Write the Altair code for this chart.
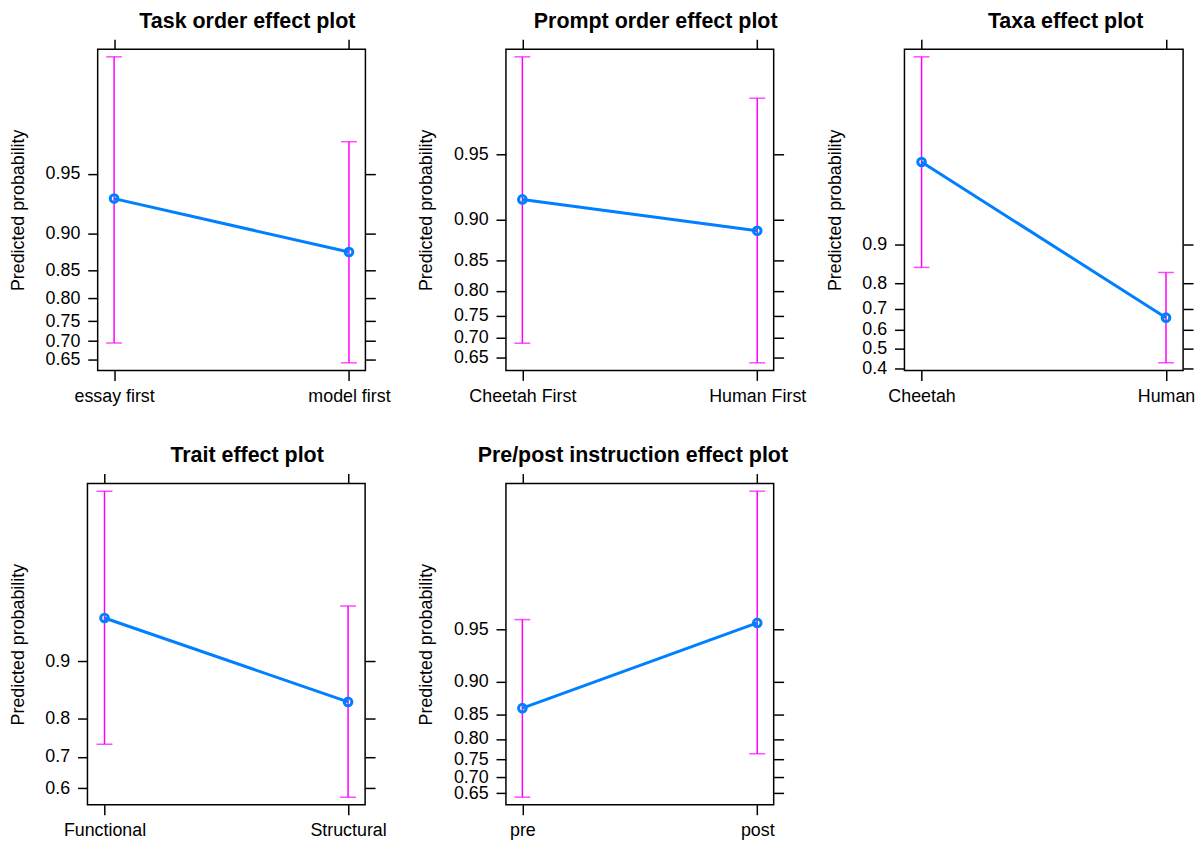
import math
import altair as alt
import pandas as pd

FONT = "Liberation Sans"
BLUE = "#0080FF"
MAGENTA = "#FF00FF"

# ---- data (probabilities) ----
task_levels = ["essay first", "model first"]
task_fit = [0.933, 0.877]
task_lower = [0.695, 0.640]
task_upper = [0.988, 0.966]

prompt_levels = ["Cheetah First", "Human First"]
prompt_fit = [0.919, 0.888]
prompt_lower = [0.687, 0.637]
prompt_upper = [0.983, 0.973]

taxa_levels = ["Cheetah", "Human"]
taxa_fit = [0.981, 0.659]
taxa_lower = [0.848, 0.427]
taxa_upper = [0.9979, 0.834]

trait_levels = ["Functional", "Structural"]
trait_fit = [0.943, 0.835]
trait_lower = [0.736, 0.569]
trait_upper = [0.990, 0.9515]

prepost_levels = ["pre", "post"]
prepost_fit = [0.861, 0.954]
prepost_lower = [0.637, 0.7645]
prepost_upper = [0.956, 0.9926]

ticks_fine = [0.65, 0.70, 0.75, 0.80, 0.85, 0.90, 0.95]
ticks_taxa = [0.4, 0.5, 0.6, 0.7, 0.8, 0.9]
ticks_trait = [0.6, 0.7, 0.8, 0.9]

titles = ["Task order effect plot", "Prompt order effect plot", "Taxa effect plot",
          "Trait effect plot", "Pre/post instruction effect plot"]


def logit(p):
    return math.log(p / (1 - p))


def panel(title, levels, fit, lower, upper, ticks, fmt, width, dx, right_extent, left_extent):
    df = pd.DataFrame({"level": levels, "fit": fit, "lower": lower, "upper": upper})
    lo = min(logit(v) for v in lower)
    hi = max(logit(v) for v in upper)
    pad = 0.025 * (hi - lo)
    yscale = alt.Scale(domain=[lo - pad, hi + pad], nice=False, zero=False)
    xscale = alt.Scale(type="point", padding=0.07)
    tick_vals = [logit(t) for t in ticks]
    label_expr = f"format(1/(1+exp(-datum.value)), '{fmt}')"

    common = dict(tickSize=10, tickWidth=1.5, tickColor="black", domain=False, grid=False)
    left = alt.Axis(orient="left", values=tick_vals, labelExpr=label_expr,
                    labelFontSize=18, labelFont=FONT, labelColor="black", labelPadding=8,
                    labelOverlap=False, minExtent=left_extent, maxExtent=left_extent,
                    titleFontSize=18, titleFont=FONT, titleColor="black",
                    titleFontWeight="normal", titlePadding=17, **common)
    right = alt.Axis(orient="right", values=tick_vals, labels=False,
                     minExtent=right_extent, maxExtent=right_extent, **common)
    bottom = alt.Axis(orient="bottom", labelAngle=0, labelFontSize=18, labelFont=FONT,
                      labelColor="black", labelPadding=7, labelOverlap=False,
                      minExtent=0, **common)
    top = alt.Axis(orient="top", labels=False, minExtent=0, maxExtent=10, **common)

    base = alt.Chart(df).transform_calculate(
        lfit="log(datum.fit/(1-datum.fit))",
        llo="log(datum.lower/(1-datum.lower))",
        lhi="log(datum.upper/(1-datum.upper))",
    )

    def xenc(axis):
        return alt.X("level:N", sort=levels, scale=xscale, axis=axis, title=None)

    rule = base.mark_rule(color=MAGENTA, strokeWidth=1.5).encode(
        x=xenc(bottom),
        y=alt.Y("llo:Q", scale=yscale, axis=left, title="Predicted probability"),
        y2="lhi:Q",
    )
    tick_lo = base.mark_tick(color=MAGENTA, size=16, thickness=1.5).encode(
        x=xenc(None), y=alt.Y("llo:Q", scale=yscale, axis=None))
    tick_hi = base.mark_tick(color=MAGENTA, size=16, thickness=1.5).encode(
        x=xenc(None), y=alt.Y("lhi:Q", scale=yscale, axis=None))
    line = base.mark_line(color=BLUE, strokeWidth=3).encode(
        x=xenc(None), y=alt.Y("lfit:Q", scale=yscale, axis=None))
    pts = base.mark_point(filled=False, color=BLUE, size=60, strokeWidth=3, opacity=1).encode(
        x=xenc(top), y=alt.Y("lfit:Q", scale=yscale, axis=right, title=None))

    return alt.layer(rule, tick_lo, tick_hi, line, pts).resolve_axis(
        x="independent", y="independent"
    ).properties(
        width=width, height=324,
        title=alt.TitleParams(title, fontSize=21.6, fontWeight="bold", font=FONT,
                              color="black", anchor="middle", frame="group",
                              dx=dx, offset=6),
    )


p1 = panel(titles[0], task_levels, task_fit, task_lower, task_upper, ticks_fine, ".2f", 270, 16, 33.4, 54)
p2 = panel(titles[1], prompt_levels, prompt_fit, prompt_lower, prompt_upper, ticks_fine, ".2f", 270, 16, 44, 54)
p3 = panel(titles[2], taxa_levels, taxa_fit, taxa_lower, taxa_upper, ticks_taxa, ".1f", 281, 22, 10, 43.5)
p4 = panel(titles[3], trait_levels, trait_fit, trait_lower, trait_upper, ticks_trait, ".1f", 280, 21, 44, 43.5)
p5 = panel(titles[4], prepost_levels, prepost_fit, prepost_lower, prepost_upper, ticks_fine, ".2f", 270, -7, 44, 54)

col1 = alt.vconcat(p1, p4, spacing=38, center=True)
col2 = alt.vconcat(p2, p5, spacing=38, center=True)

chart = alt.concat(col1, col2, p3, columns=3, spacing=7, align="none").properties(
    padding={"left": 0, "top": -2, "right": 0, "bottom": 0}
).configure_view(stroke="black", strokeWidth=1.5)

chart.save("out.html", embed_options={"renderer": "svg", "actions": False})
